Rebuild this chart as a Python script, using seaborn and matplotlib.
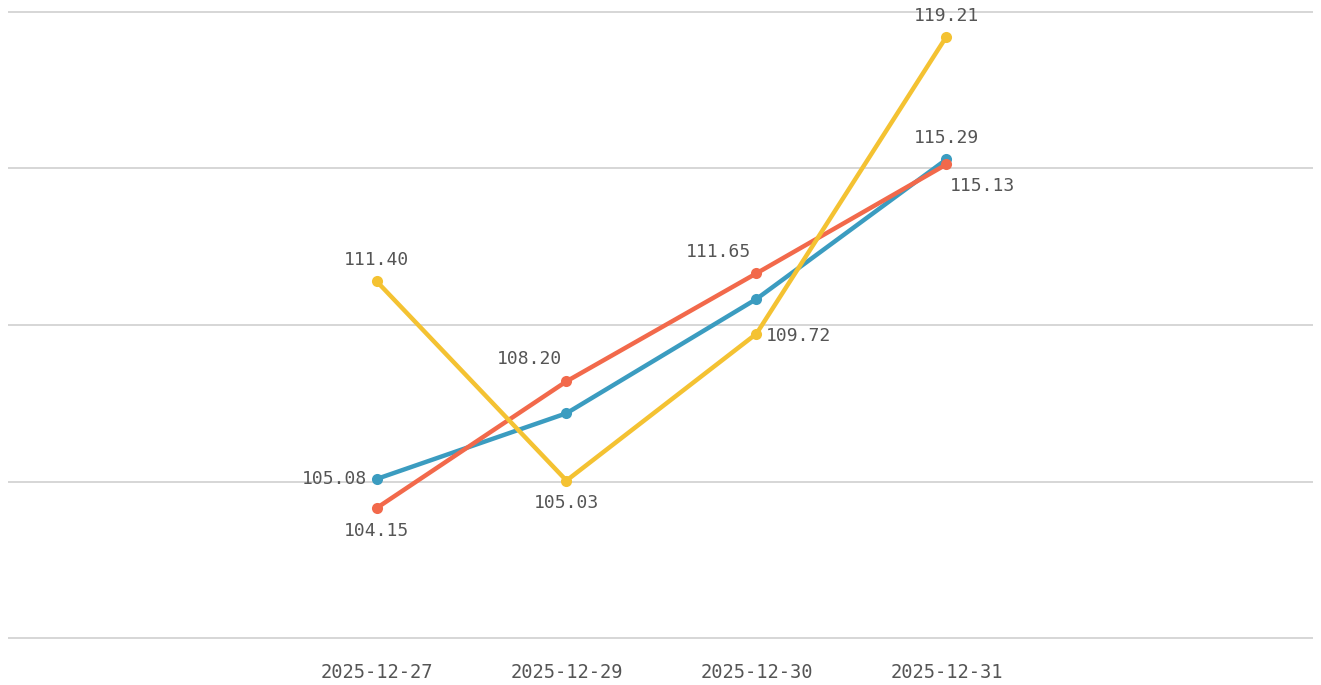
import matplotlib
matplotlib.use('Agg')
import matplotlib.pyplot as plt
import pandas as pd
import seaborn as sns

# Data
DATES = ['2025-12-27', '2025-12-29', '2025-12-30', '2025-12-31']
BLUE = [105.08, 107.18, 110.83, 115.29]
RED = [104.15, 108.20, 111.65, 115.13]
YELLOW = [111.40, 105.03, 109.72, 119.21]
SERIES = {'A': BLUE, 'B': RED, 'C': YELLOW}
COLORS = {'A': '#3b9cc0', 'B': '#f2694b', 'C': '#f4c232'}
Y_TICKS = [100, 105, 110, 115, 120]

# which points get a label, and where it sits (pixel offset, alignment)
LABELS = [
    ('A', 0, (-9, 0), 'right', 'center'),
    ('A', 3, (0, 21), 'center', 'center'),
    ('B', 0, (0, -23), 'center', 'center'),
    ('B', 1, (-37, 22), 'center', 'center'),
    ('B', 2, (-38, 21), 'center', 'center'),
    ('B', 3, (36, -22), 'center', 'center'),
    ('C', 0, (0, 21), 'center', 'center'),
    ('C', 1, (0, -22), 'center', 'center'),
    ('C', 2, (9, -2), 'left', 'center'),
    ('C', 3, (0, 21), 'center', 'center'),
]

TEXT_COLOR = '#555555'
FONT = 'DejaVu Sans Mono'


def main() -> None:
    df = pd.DataFrame([(name, d, v) for name, vals in SERIES.items() for d, v in zip(DATES, vals)],
                      columns=['series', 'date', 'value'])

    sns.set_style('white')
    fig = plt.figure(figsize=(13.21, 6.85), dpi=100)
    ax = fig.add_axes([8 / 1321, 46 / 685, 1305 / 1321, 628 / 685])

    sns.lineplot(data=df, x='date', y='value', hue='series', palette=COLORS, ax=ax,
                 linewidth=3.2, marker='o', markersize=8, markeredgewidth=0, legend=False, sort=False)

    for name, i, (dx, dy), ha, va in LABELS:
        ax.annotate(f'{SERIES[name][i]:.2f}', xy=(i, SERIES[name][i]), xytext=(dx, dy),
                    textcoords='offset pixels', ha=ha, va=va, fontsize=13, color=TEXT_COLOR, family=FONT)

    ax.set_xlim(-1.94, 4.93)
    ax.set_ylim(99.97, 120.03)
    ax.set_yticks(Y_TICKS)
    ax.set_yticklabels([])
    ax.yaxis.grid(True, color='#d0d0d0', linewidth=1.2)
    ax.set_axisbelow(True)
    ax.tick_params(axis='both', length=0)
    ax.tick_params(axis='x', pad=17, labelsize=13.5, labelcolor=TEXT_COLOR)
    for lbl in ax.get_xticklabels():
        lbl.set_family(FONT)
    ax.set_xlabel('')
    ax.set_ylabel('')
    for spine in ax.spines.values():
        spine.set_visible(False)

    fig.savefig('out.png', dpi=100)


if __name__ == '__main__':
    main()
